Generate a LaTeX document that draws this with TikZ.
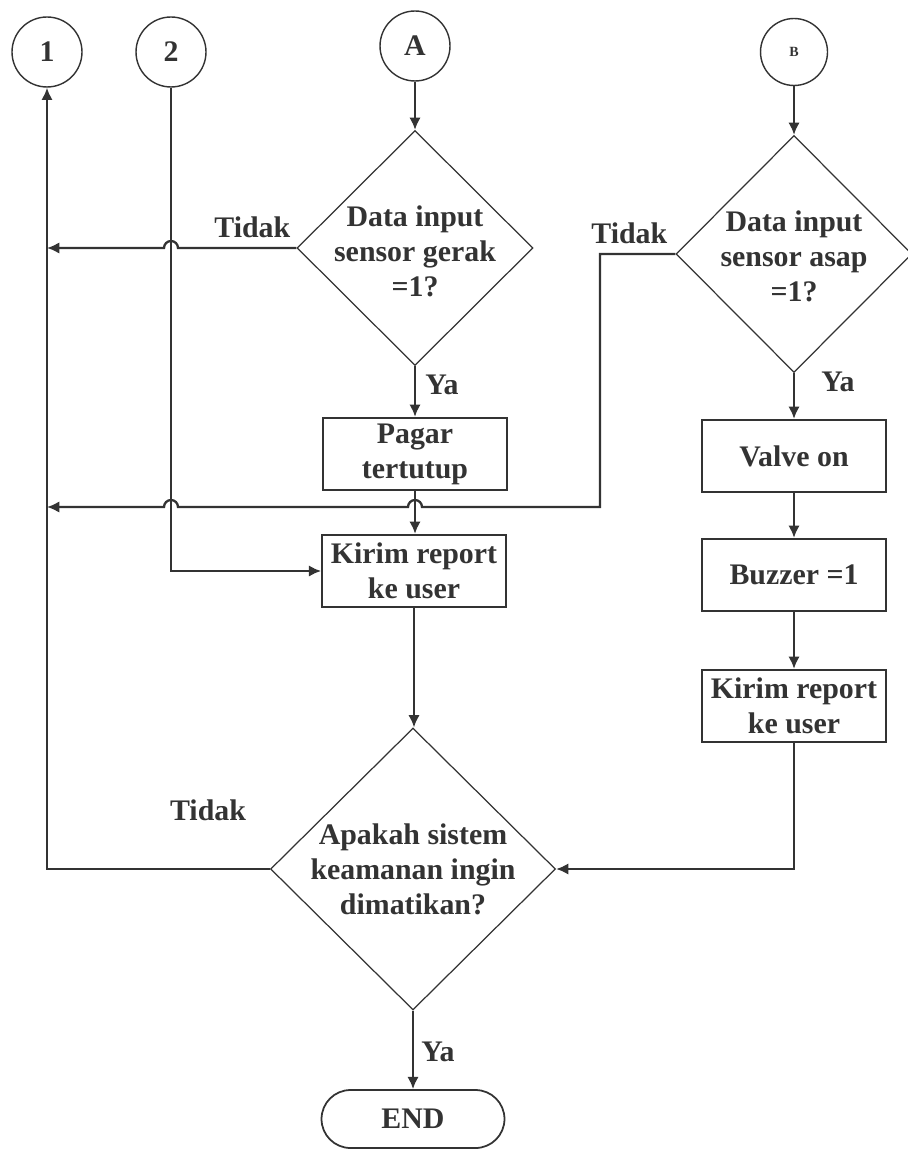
\documentclass[tikz,border=0pt]{standalone}
\usepackage{fontspec}
\setmainfont{Liberation Serif}
\usepackage{tikz}
\usetikzlibrary{shapes,arrows.meta,positioning,calc}
\tikzstyle{conn} = [circle,draw,line width=0.8pt,minimum size=1.4cm,inner sep=0pt]
\tikzstyle{process} = [rectangle,draw,line width=1pt,minimum width=3.68cm,minimum height=1.45cm,align=center,inner sep=0pt]
\tikzstyle{decision} = [diamond,draw,line width=0.7pt,inner sep=0pt]
\tikzstyle{term} = [rectangle,rounded corners=0.58cm,draw,line width=1pt,minimum width=3.66cm,minimum height=1.16cm]
\tikzstyle{flow} = [line width=1.3pt]

\begin{document}
\begin{tikzpicture}[x=0.02cm,y=-0.02cm,>={Latex[length=7pt,width=6.5pt]},color=black!80,
    every node/.style={font=\bfseries\fontsize{17}{20}\selectfont}]
    \useasboundingbox (0,0) rectangle (907,1158);

    % connectors
    \node [conn] (c1) at (47,52) {1};
    \node [conn] (c2) at (171,52) {2};
    \node [conn] (cA) at (415,46) {A};
    \node [conn,minimum size=1.34cm,font=\bfseries\fontsize{8}{9}\selectfont] (cB) at (794,52) {B};

    % left branch
    \node [decision,minimum width=4.72cm,minimum height=4.7cm] (d1) at (415,248) {};
    \node [align=center] (d1t) at ($(d1)+(0,3)$) {Data input\\sensor gerak\\=1?};
    \node [process] (p1) at (415,454) {Pagar\\tertutup};
    \node [process] (k1) at (414,571) {Kirim report\\ke user};

    % right branch
    \node [decision,minimum width=4.72cm,minimum height=4.74cm] (d2) at (794,254) {};
    \node [align=center] (d2t) at ($(d2)+(0,2)$) {Data input\\sensor asap\\=1?};
    \node [process] (v1) at (794,456) {Valve on};
    \node [process] (b1) at (794,575) {Buzzer =1};
    \node [process] (k2) at (794,706) {Kirim report\\ke user};

    % end
    \node [decision,minimum width=5.7cm,minimum height=5.64cm] (d3) at (413,869) {};
    \node [align=center] (d3t) at (d3) {Apakah sistem\\keamanan ingin\\dimatikan?};
    \node [term] (end) at (413,1119) {END};

    \coordinate (t2) at (600,507);

    \draw [flow,->] (cA) -- (d1.north);
    \draw [flow,->] (d1.south) -- (d1.south |- p1.north);
    \node (ya1) at (442,385) {Ya};
    \draw [flow,->] (p1.south) -- (p1.south |- k1.north);
    \draw [flow,->] (d1.west) -- ($(c2.south |- d1.west)+(7,0)$)
        arc [start angle=0,end angle=180,radius=0.14cm] -- (c1.south |- d1.west);
    \node [anchor=south east] (no1) at ($(d1.west)+(0,-4)$) {Tidak};
    \draw [flow,->] (c2.south) |- (k1.west);
    \draw [flow,->] (k1.south) -- (k1.south |- d3.north);

    \draw [flow,->] (cB) -- (d2.north);
    \draw [flow,->] (d2.south) -- (v1.north);
    \node (ya2) at (838,382) {Ya};
    \draw [flow,->] (v1.south) -- (b1.north);
    \draw [flow,->] (b1.south) -- (k2.north);
    \draw [flow,->] (d2.west) -| (t2) -- ($(p1.south |- t2)+(7,0)$)
        arc [start angle=0,end angle=180,radius=0.14cm] -- ($(c2.south |- t2)+(7,0)$)
        arc [start angle=0,end angle=180,radius=0.14cm] -- (c1.south |- t2);
    \node [anchor=south east] (no2) at ($(d2.west)+(-2,-4)$) {Tidak};
    \draw [flow,->] (k2.south) |- (d3.east);

    \draw [flow,->] (d3.west) -| (c1.south);
    \node (no3) at (208,810) {Tidak};
    \draw [flow,->] (d3.south) -- (end.north);
    \node (ya3) at (438,1052) {Ya};
  \end{tikzpicture}
\end{document}
